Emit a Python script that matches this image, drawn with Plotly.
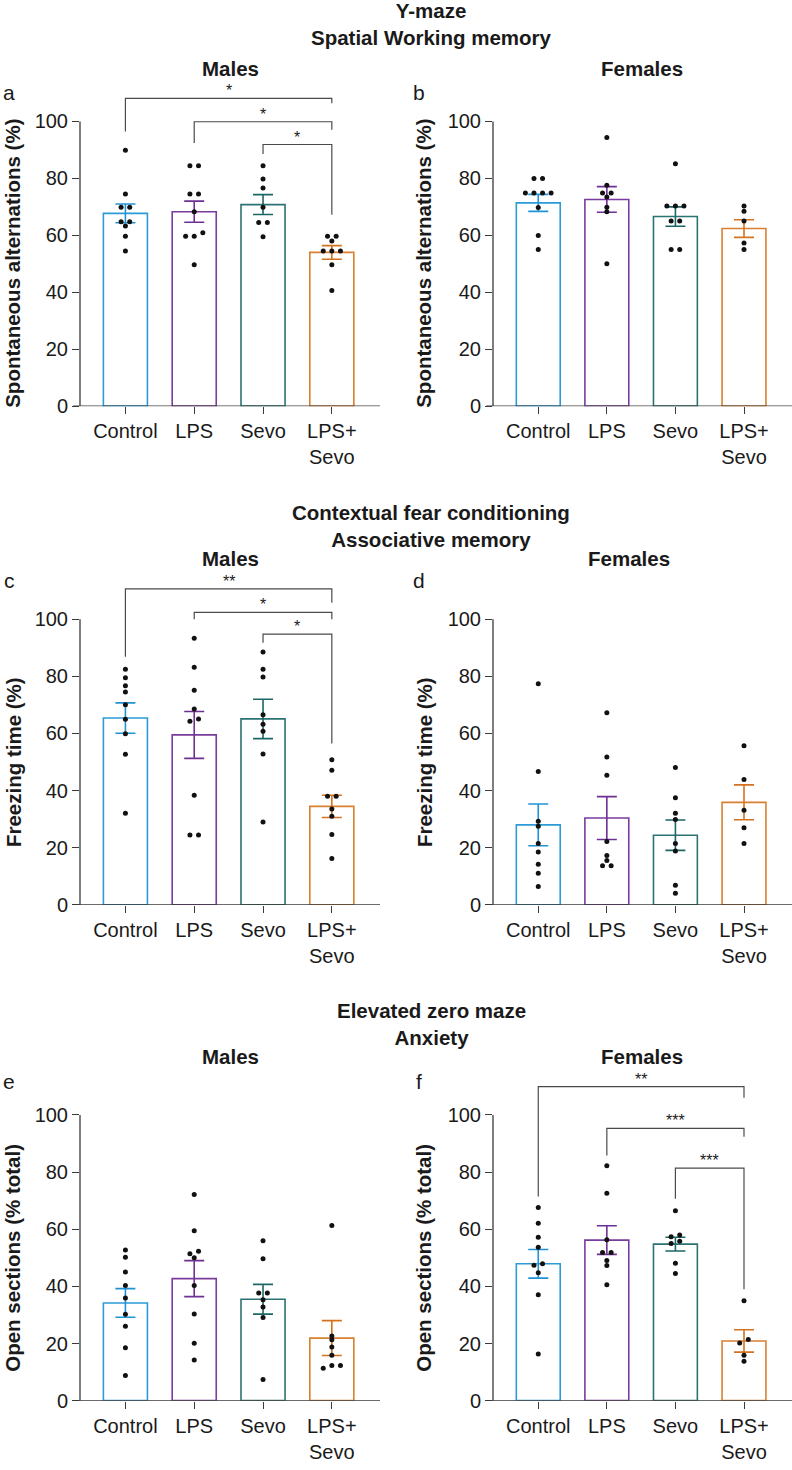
import plotly.graph_objects as go

W, H = 792, 1470

# ---------------- data ----------------
categories = ["Control", "LPS", "Sevo", "LPS+<br>Sevo"]
tick_values = [0, 20, 40, 60, 80, 100]

# (a) Y-maze, males: spontaneous alternations (%)
ym_m_mean = [67.7, 68.3, 70.8, 54.0]
ym_m_sem = [3.3, 3.7, 3.5, 2.4]
ym_m_control = [89.9, 74.5, 69.9, 69.9, 64.8, 64.8, 63.3, 59.7, 54.5]
ym_m_lps = [84.4, 84.4, 74.5, 74.5, 68.3, 60.9, 59.7, 59.7, 49.7]
ym_m_sevo = [84.4, 79.8, 76.6, 69.9, 64.5, 64.5, 59.5]
ym_m_lpssevo = [59.7, 59.7, 58.0, 54.5, 54.5, 54.5, 49.7, 40.6]

# (b) Y-maze, females
ym_f_mean = [71.4, 72.6, 66.6, 62.4]
ym_f_sem = [3.0, 4.5, 3.4, 3.1]
ym_f_control = [80.0, 80.0, 74.9, 74.9, 74.9, 74.9, 69.8, 59.9, 55.0]
ym_f_lps = [94.4, 77.6, 74.9, 74.9, 73.5, 69.9, 68.3, 50.0]
ym_f_sevo = [85.1, 70.3, 70.3, 70.3, 65.0, 65.0, 55.0, 55.0]
ym_f_lpssevo = [70.3, 68.5, 65.0, 57.3, 55.0]

# (c) Contextual fear conditioning, males: freezing time (%)
cfc_m_mean = [65.4, 59.5, 65.1, 34.5]
cfc_m_sem = [5.3, 8.2, 6.9, 3.9]
cfc_m_control = [82.5, 79.5, 76.7, 74.5, 70.1, 65.0, 59.9, 52.7, 32.1]
cfc_m_lps = [93.3, 83.2, 75.1, 68.6, 65.1, 64.3, 38.4, 24.5, 24.5]
cfc_m_sevo = [88.5, 82.5, 79.8, 66.6, 63.2, 60.8, 52.8, 29.0]
cfc_m_lpssevo = [50.8, 47.1, 38.0, 38.0, 33.6, 31.0, 24.6, 16.2]

# (d) Contextual fear conditioning, females
cfc_f_mean = [28.0, 30.4, 24.4, 35.9]
cfc_f_sem = [7.3, 7.5, 5.3, 6.1]
cfc_f_control = [77.4, 46.7, 29.3, 27.5, 21.5, 18.5, 14.2, 11.1, 6.4]
cfc_f_lps = [67.3, 51.8, 45.4, 22.2, 17.3, 15.5, 13.7, 13.7]
cfc_f_sevo = [48.1, 37.5, 32.1, 29.9, 21.5, 18.9, 6.9, 4.1]
cfc_f_lpssevo = [55.7, 43.9, 33.1, 27.0, 21.5]

# (e) Elevated zero maze, males: open sections (% total)
ezm_m_mean = [34.2, 42.7, 35.5, 21.9]
ezm_m_sem = [5.0, 6.3, 5.2, 6.1]
ezm_m_control = [52.7, 50.2, 45.0, 40.3, 35.9, 30.2, 26.0, 18.5, 8.8]
ezm_m_lps = [72.2, 59.5, 52.3, 51.4, 50.0, 40.3, 30.3, 20.1, 14.2]
ezm_m_sevo = [56.0, 49.7, 37.7, 37.7, 35.3, 32.8, 29.1, 7.4]
ezm_m_lpssevo = [61.3, 22.6, 21.3, 18.8, 15.9, 12.3, 12.3, 11.3]

# (f) Elevated zero maze, females
ezm_f_mean = [47.9, 56.2, 54.8, 20.9]
ezm_f_sem = [5.0, 5.0, 2.4, 3.9]
ezm_f_control = [67.6, 62.1, 57.2, 53.7, 47.9, 47.4, 44.8, 37.1, 16.3]
ezm_f_lps = [82.2, 72.6, 56.3, 51.9, 51.9, 49.1, 47.3, 40.6]
ezm_f_sevo = [66.5, 58.0, 57.4, 55.8, 55.0, 48.1, 44.5]
ezm_f_lpssevo = [35.0, 21.4, 20.2, 15.9, 13.8]

# significance comparisons: (group i, group j, label)
sig_a = [(0, 3, "*"), (1, 3, "*"), (2, 3, "*")]
sig_c = [(0, 3, "**"), (1, 3, "*"), (2, 3, "*")]
sig_f = [(0, 3, "**"), (1, 3, "***"), (2, 3, "***")]

# ---------------- styling / layout ----------------
bar_colors = ["#2a9bd8", "#7a3b9c", "#2b7272", "#d98030"]
err_colors = ["#1f93d3", "#6f2f94", "#1d6666", "#d4731f"]
axis_color = "#3a3a3a"
text_color = "#1a1a1a"
FONT = "Liberation Sans, Arial, Helvetica, sans-serif"
YMAX = 120
YSTRETCH = 1.003  # small vertical correction of the page layout

def px_x(x):
    return x / W

def px_y(y):
    return 1 - (y * YSTRETCH) / H

# pixel geometry of each row: (pixel y of value 0, pixel y of value 100)
rows_px = [(408, 122), (909, 622), (1407, 1120)]
cols_px = [(80, 380), (493, 792)]
xrange_ = [-0.66, 3.70]

def ydomain(row):
    y0, y100 = rows_px[row]
    per = (y0 - y100) / 100.0
    ytop = y0 - YMAX * per
    return [px_y(y0), px_y(ytop)]

def paper_of_value(row, v):
    y0, y100 = rows_px[row]
    return px_y(y0 - v * (y0 - y100) / 100.0)

panels = [
    dict(row=0, col=0, letter="a", title="Males", ytitle="Spontaneous alternations (%)",
         mean=ym_m_mean, sem=ym_m_sem,
         pts=[ym_m_control, ym_m_lps, ym_m_sevo, ym_m_lpssevo], sig=sig_a,
         br=[(108.1, 96.5, 106.4), (99.9, 92.4, 97.1), (91.9, 88.6, 67.2)]),
    dict(row=0, col=1, letter="b", title="Females", ytitle="Spontaneous alternations (%)",
         mean=ym_f_mean, sem=ym_f_sem,
         pts=[ym_f_control, ym_f_lps, ym_f_sevo, ym_f_lpssevo], sig=[], br=[]),
    dict(row=1, col=0, letter="c", title="Males", ytitle="Freezing time (%)",
         mean=cfc_m_mean, sem=cfc_m_sem,
         pts=[cfc_m_control, cfc_m_lps, cfc_m_sevo, cfc_m_lpssevo], sig=sig_c,
         br=[(110.6, 86.9, 105.8), (102.4, 100.0, 100.0), (94.8, 91.8, 56.5)]),
    dict(row=1, col=1, letter="d", title="Females", ytitle="Freezing time (%)",
         mean=cfc_f_mean, sem=cfc_f_sem,
         pts=[cfc_f_control, cfc_f_lps, cfc_f_sevo, cfc_f_lpssevo], sig=[], br=[]),
    dict(row=2, col=0, letter="e", title="Males", ytitle="Open sections (% total)",
         mean=ezm_m_mean, sem=ezm_m_sem,
         pts=[ezm_m_control, ezm_m_lps, ezm_m_sevo, ezm_m_lpssevo], sig=[], br=[]),
    dict(row=2, col=1, letter="f", title="Females", ytitle="Open sections (% total)",
         mean=ezm_f_mean, sem=ezm_f_sem,
         pts=[ezm_f_control, ezm_f_lps, ezm_f_sevo, ezm_f_lpssevo], sig=sig_f,
         br=[(109.9, 71.5, 106.0), (95.3, 85.8, 92.4), (81.4, 70.7, 39.0)]),
]

section_titles = [
    ("Y-maze<br>Spatial Working memory", 24),
    ("Contextual fear conditioning<br>Associative memory", 528),
    ("Elevated zero maze<br>Anxiety", 1029),
]
subtitle_px = [(69, 561, 1061), (69, 561, 1061)]
subtitle_x = [(230, 230, 230), (642, 629, 642)]
letter_px_y = [93, 583, 1086]
letter_px_x = [9, 419]
ytitle_px_x = [13, 424]


def spread(vals, tol=1.25, step=0.125):
    order = sorted(range(len(vals)), key=lambda i: vals[i])
    offs = [0.0] * len(vals)
    groups, cur = [], [order[0]]
    for a, b in zip(order, order[1:]):
        if vals[b] - vals[a] <= tol:
            cur.append(b)
        else:
            groups.append(cur)
            cur = [b]
    groups.append(cur)
    for g in groups:
        n = len(g)
        for k, i in enumerate(g):
            offs[i] = (k - (n - 1) / 2.0) * step
    return offs


fig = go.Figure()
shapes, annotations = [], []
layout_axes = {}

for idx, p in enumerate(panels):
    n = idx + 1
    xa = "x" if n == 1 else f"x{n}"
    ya = "y" if n == 1 else f"y{n}"
    xkey = "xaxis" if n == 1 else f"xaxis{n}"
    ykey = "yaxis" if n == 1 else f"yaxis{n}"
    row, col = p["row"], p["col"]
    cx0, cx1 = cols_px[col]

    layout_axes[xkey] = dict(
        domain=[px_x(cx0), px_x(cx1)], range=xrange_, anchor=ya,
        tickmode="array", tickvals=[0, 1, 2, 3], ticktext=categories,
        showline=False, showgrid=False, zeroline=False,
        ticks="outside", ticklen=7, tickwidth=1.3, tickcolor=axis_color,
        tickfont=dict(size=20, color=text_color, family=FONT), fixedrange=True,
    )
    layout_axes[ykey] = dict(
        domain=ydomain(row), range=[0, YMAX], anchor=xa,
        tickmode="array", tickvals=tick_values,
        showline=False, showgrid=False, zeroline=False,
        ticks="outside", ticklen=7, tickwidth=1.3, tickcolor=axis_color,
        tickfont=dict(size=20, color=text_color, family=FONT), fixedrange=True,
    )

    # bars with SEM
    for g in range(4):
        fig.add_trace(go.Bar(
            x=[g], y=[p["mean"][g]], width=0.64, xaxis=xa, yaxis=ya,
            marker=dict(color="white", line=dict(color=bar_colors[g], width=1.6)),
            error_y=dict(type="data", array=[p["sem"][g]], visible=True,
                         color=err_colors[g], thickness=1.6, width=10),
            showlegend=False, hoverinfo="skip",
        ))
    # individual points
    for g in range(4):
        vals = p["pts"][g]
        offs = spread(vals)
        fig.add_trace(go.Scatter(
            x=[g + o for o in offs], y=vals, mode="markers", xaxis=xa, yaxis=ya,
            marker=dict(color="#111111", size=5), showlegend=False,
            hoverinfo="skip", cliponaxis=False,
        ))

    # axis lines
    shapes.append(dict(type="line", xref=f"{xa} domain", yref=ya, x0=0, x1=0, y0=0, y1=100,
                       line=dict(color=axis_color, width=1.3)))
    shapes.append(dict(type="line", xref=f"{xa} domain", yref=ya, x0=-0.023, x1=1, y0=0, y1=0,
                       line=dict(color=axis_color, width=1.3)))

    # significance brackets
    for (i, j, lab), (ybar, yl, yr) in zip(p["sig"], p["br"]):
        pts = [(i, yl), (i, ybar), (j, ybar), (j, yr)]
        path = "M " + " L ".join(f"{a},{b}" for a, b in pts)
        shapes.append(dict(type="path", xref=xa, yref=ya, path=path,
                           line=dict(color="#4a4a4a", width=1.2)))
        annotations.append(dict(x=(i + j) / 2.0, y=ybar, xref=xa, yref=ya, text=lab,
                                showarrow=False, yanchor="bottom", yshift=-3,
                                font=dict(size=16, color=text_color, family=FONT)))

    # subtitle, letter, y title
    annotations.append(dict(x=px_x(subtitle_x[col][row]), y=px_y(subtitle_px[col][row]),
                            xref="paper", yref="paper", text="<b>" + p["title"] + "</b>",
                            showarrow=False, xanchor="center", yanchor="middle",
                            font=dict(size=20.5, color=text_color, family=FONT)))
    annotations.append(dict(x=px_x(letter_px_x[col]), y=px_y(letter_px_y[row]),
                            xref="paper", yref="paper", text=p["letter"],
                            showarrow=False, xanchor="center", yanchor="middle",
                            font=dict(size=21, color=text_color, family=FONT)))
    annotations.append(dict(x=px_x(ytitle_px_x[col]), y=paper_of_value(row, 50),
                            xref="paper", yref="paper", text="<b>" + p["ytitle"] + "</b>",
                            textangle=-90, showarrow=False, xanchor="center", yanchor="middle",
                            font=dict(size=20.5, color=text_color, family=FONT)))

for txt, ypx in section_titles:
    annotations.append(dict(x=px_x(431), y=px_y(ypx), xref="paper", yref="paper",
                            text="<b>" + txt + "</b>", showarrow=False,
                            xanchor="center", yanchor="middle", align="center",
                            font=dict(size=20.5, color=text_color, family=FONT)))

fig.update_layout(
    width=W, height=H, margin=dict(l=0, r=0, t=0, b=0),
    paper_bgcolor="white", plot_bgcolor="white",
    shapes=shapes, annotations=annotations, barmode="overlay",
    font=dict(family=FONT, color=text_color),
    **layout_axes,
)

page_css = (
    "document.documentElement.style.margin='0';"
    "document.documentElement.style.padding='0';"
    "document.documentElement.style.overflow='hidden';"
    "document.body.style.margin='0';"
    "document.body.style.padding='0';"
    "document.body.style.overflow='hidden';"
)
fig.write_html("out.html", config={"displayModeBar": False}, post_script=page_css)
